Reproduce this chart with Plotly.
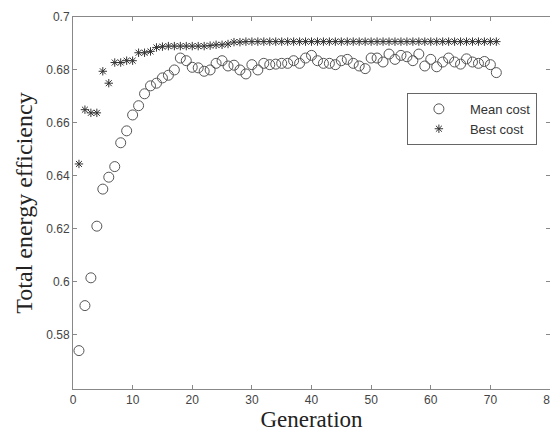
import plotly.graph_objects as go

generations = list(range(1, 72))

mean_cost = [
    0.574, 0.591, 0.6015, 0.621, 0.635, 0.6395, 0.6435, 0.6525, 0.657, 0.663,
    0.6665, 0.671, 0.674, 0.675, 0.677, 0.678, 0.680, 0.6845, 0.6835, 0.681,
    0.6808, 0.6795, 0.680, 0.6825, 0.6835, 0.6815, 0.6818, 0.680, 0.6785, 0.682,
    0.680, 0.6825, 0.682, 0.6822, 0.6825, 0.6825, 0.6835, 0.6825, 0.6845, 0.6855,
    0.6835, 0.6825, 0.6825, 0.682, 0.6835, 0.684, 0.6825, 0.6815, 0.6805, 0.6845,
    0.6845, 0.683, 0.686, 0.684, 0.6855, 0.685, 0.6835, 0.686, 0.6815, 0.684,
    0.6812, 0.683, 0.6845, 0.683, 0.6822, 0.6842, 0.683, 0.6825, 0.6832, 0.682,
    0.679,
]

best_cost = [
    0.6445, 0.665, 0.6638, 0.6638, 0.6795, 0.675, 0.6828, 0.6828, 0.6835, 0.6835,
    0.6865, 0.6865, 0.687, 0.6885, 0.6888, 0.6890, 0.6890, 0.6890, 0.6890, 0.6890,
    0.6890, 0.6890, 0.6892, 0.6895, 0.6895, 0.6898, 0.6905, 0.6905, 0.6907, 0.6907,
    0.6907, 0.6907, 0.6907, 0.6907, 0.6907, 0.6907, 0.6907, 0.6907, 0.6907, 0.6907,
    0.6907, 0.6907, 0.6907, 0.6907, 0.6907, 0.6907, 0.6907, 0.6907, 0.6907, 0.6907,
    0.6907, 0.6907, 0.6907, 0.6907, 0.6907, 0.6907, 0.6907, 0.6907, 0.6907, 0.6907,
    0.6907, 0.6907, 0.6907, 0.6907, 0.6907, 0.6907, 0.6907, 0.6907, 0.6907, 0.6907,
    0.6907,
]

x_ticks = [0, 10, 20, 30, 40, 50, 60, 70, 80]
y_ticks = [0.58, 0.6, 0.62, 0.64, 0.66, 0.68, 0.7]
y_tick_text = ["0.58", "0.6", "0.62", "0.64", "0.66", "0.68", "0.7"]

fig = go.Figure()
fig.add_trace(go.Scatter(
    x=generations, y=mean_cost, mode="markers", name="Mean cost",
    marker=dict(symbol="circle-open", size=10, color="#555555", line=dict(width=1)),
))
fig.add_trace(go.Scatter(
    x=generations, y=best_cost, mode="markers", name="Best cost",
    marker=dict(symbol="asterisk-open", size=7, color="#333333", line=dict(width=1, color="#333333")),
))

axis_common = dict(
    showgrid=False, zeroline=False, showline=True, linecolor="#888888", linewidth=1,
    mirror="ticks", ticks="inside", ticklen=4, tickcolor="#888888", automargin=False,
    tickfont=dict(family="Arial, Liberation Sans, sans-serif", size=12, color="#444444"),
)

# The page body has an 8px margin, so the figure is sized to fit inside the window.
fig.update_layout(
    width=550, height=424,
    margin=dict(l=65, r=8, t=9, b=43),
    paper_bgcolor="white", plot_bgcolor="white",
    showlegend=True,
    legend=dict(
        x=0.70, y=0.796, xanchor="left", yanchor="top",
        bordercolor="#666666", borderwidth=1, bgcolor="white",
        font=dict(family="Arial, Liberation Sans, sans-serif", size=13, color="#333333"),
        itemwidth=52, tracegroupgap=2,
    ),
    xaxis=dict(range=[0, 80], tickvals=x_ticks,
               title=dict(text="Generation", standoff=2,
                          font=dict(family="Times New Roman, Liberation Serif, serif", size=23, color="#222222")),
               **axis_common),
    yaxis=dict(range=[0.5595, 0.7], tickvals=y_ticks, ticktext=y_tick_text,
               title=dict(text="Total energy efficiency", standoff=6,
                          font=dict(family="Times New Roman, Liberation Serif, serif", size=24, color="#222222")),
               **axis_common),
)

fig.write_html("out.html")
